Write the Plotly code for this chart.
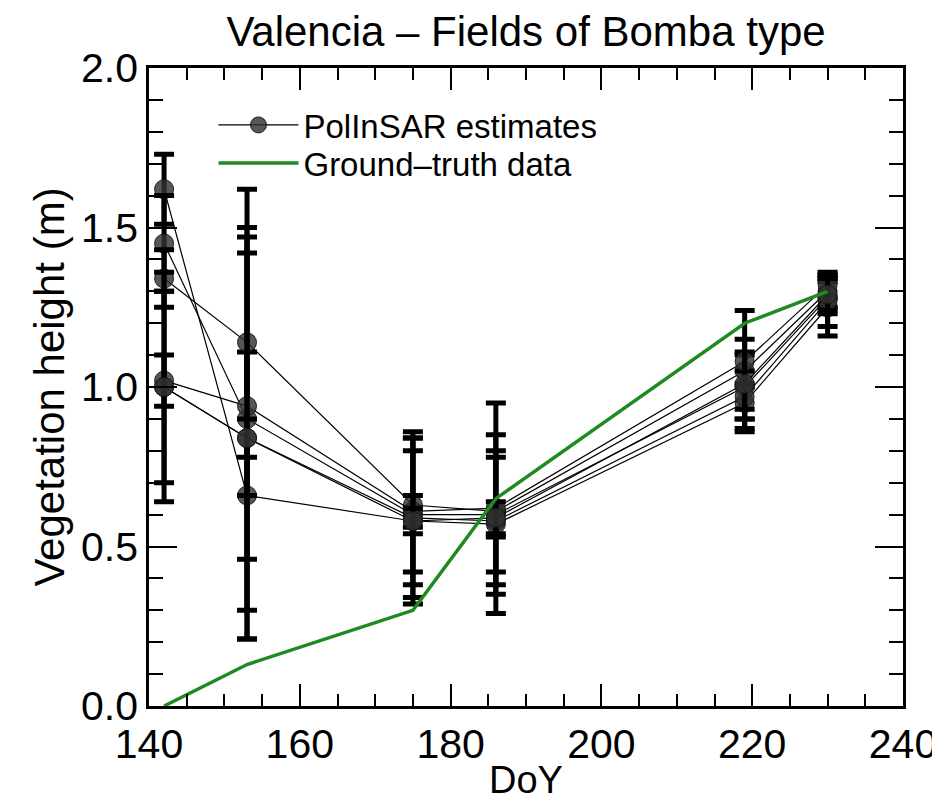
import plotly.graph_objects as go

# ---------------- data ----------------
doy = [142, 153, 175, 186, 219, 230]

field_1 = [1.62, 0.66, 0.58, 0.57, 0.95, 1.25]
field_2 = [1.45, 0.90, 0.60, 0.60, 1.00, 1.28]
field_3 = [1.34, 1.14, 0.63, 0.61, 1.05, 1.30]
field_4 = [1.02, 0.94, 0.61, 0.62, 1.08, 1.32]
field_5 = [1.00, 0.84, 0.59, 0.58, 0.97, 1.27]
field_6 = [1.00, 0.84, 0.58, 0.59, 1.01, 1.29]

err_1 = [0.11, 0.45, 0.26, 0.04, 0.05, 0.09]
err_2 = [0.15, 0.60, 0.26, 0.25, 0.10, 0.05]
err_3 = [0.09, 0.48, 0.21, 0.19, 0.19, 0.05]
err_4 = [0.08, 0.48, 0.05, 0.33, 0.03, 0.04]
err_5 = [0.36, 0.63, 0.21, 0.20, 0.04, 0.08]
err_6 = [0.30, 0.06, 0.04, 0.05, 0.14, 0.05]

truth_doy = [142, 153, 175, 186, 219, 230]
truth_height = [0.00, 0.13, 0.30, 0.65, 1.20, 1.30]

fields = [field_1, field_2, field_3, field_4, field_5, field_6]
errors = [err_1, err_2, err_3, err_4, err_5, err_6]

FONT = "Liberation Sans"

fig = go.Figure()

for i, (h, e) in enumerate(zip(fields, errors)):
    fig.add_trace(go.Scatter(
        x=doy, y=h,
        mode="lines+markers",
        name="PolInSAR estimates",
        legend="legend",
        legendgroup="est",
        showlegend=(i == 0),
        line=dict(color="black", width=1.2),
        marker=dict(symbol="circle", size=19, color="rgba(50,50,50,0.82)",
                    line=dict(color="rgba(20,20,20,0.9)", width=1)),
        error_y=dict(type="data", array=e, visible=True, color="black",
                     thickness=5, width=10),
    ))

fig.add_trace(go.Scatter(
    x=truth_doy, y=truth_height,
    mode="lines",
    name="Ground\u2013truth data",
    legend="legend2",
    line=dict(color="#1f8a1f", width=3.5),
))

axis_common = dict(
    showline=True, linecolor="black", linewidth=2.5, mirror="allticks",
    ticks="inside", tickcolor="black", tickwidth=2,
    showgrid=False, zeroline=False, automargin=False,
    tickfont=dict(family=FONT, size=41, color="black"),
)

fig.update_xaxes(
    range=[140, 240], dtick=20, tick0=140, ticklen=22,
    minor=dict(dtick=5, ticklen=12, tickwidth=2, tickcolor="black", ticks="inside"),
    **axis_common,
)
fig.update_yaxes(
    range=[0, 2], dtick=0.5, tick0=0, tickformat=".1f", ticklen=28,
    minor=dict(dtick=0.1, ticklen=14, tickwidth=2, tickcolor="black", ticks="inside"),
    title=dict(text="Vegetation height (m)", font=dict(family=FONT, size=42, color="black"), standoff=4),
    **axis_common,
)

legend_common = dict(
    xanchor="left", yanchor="middle",
    bgcolor="rgba(255,255,255,0)", borderwidth=0,
    font=dict(family=FONT, size=33, color="black"),
    itemwidth=80,
)

# the page adds an 8 px body margin, so the figure is sized to fill the window
fig.update_layout(
    width=932, height=796,
    margin=dict(l=141, r=37, t=60, b=98, autoexpand=False),
    paper_bgcolor="white", plot_bgcolor="white",
    title=dict(text="Valencia \u2013 Fields of Bomba type", xref="paper", x=0.5,
               xanchor="center", y=0.971, yanchor="middle",
               font=dict(family=FONT, size=42, color="black")),
    legend=dict(x=0.0855, y=0.9107, **legend_common),
    legend2=dict(x=0.0855, y=0.8511, **legend_common),
    showlegend=True,
    annotations=[dict(text="DoY", xref="paper", yref="paper", x=0.5, y=-0.116,
                      xanchor="center", yanchor="middle", showarrow=False,
                      font=dict(family=FONT, size=38, color="black"))],
)

fig.write_html("out.html")
